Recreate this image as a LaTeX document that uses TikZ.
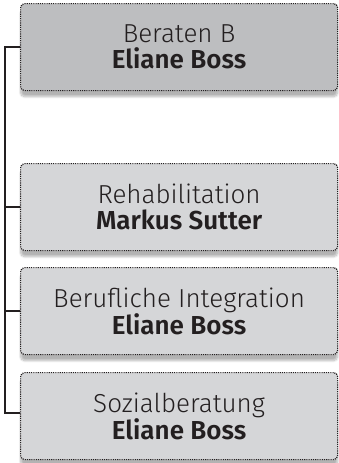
\documentclass[tikz,border=0pt]{standalone}
\usepackage{fontspec}
\setmainfont{Fira Sans}[UprightFont=* Light, BoldFont=* SemiBold]
\usetikzlibrary{shadows.blur}
\definecolor{boxtop}{HTML}{BDBEC0}
\definecolor{boxsub}{HTML}{D5D6D8}
\definecolor{ink}{HTML}{231F20}
\begin{document}
\begin{tikzpicture}[x=1pt,y=1pt,
  unit/.style={draw=ink, dash pattern=on 1.1pt off 1.1pt, line width=1.2pt, rounded corners=4pt,
    minimum width=317pt, minimum height=87pt, anchor=north west,
    align=center, text=ink, font=\fontsize{26}{26}\selectfont, inner sep=0pt,
    blur shadow={shadow xshift=0pt, shadow yshift=-6pt, shadow blur steps=8, shadow opacity=30}},
  link/.style={draw=ink, line width=1.8pt}]
\useasboundingbox (0,0) rectangle (339,-463);
\node[unit, fill=boxtop] (b0) at (20,-3) {Beraten B\\\textbf{Eliane Boss}};
\node[unit, fill=boxsub] (b1) at (20,-163) {Rehabilitation\\\textbf{Markus Sutter}};
\node[unit, fill=boxsub] (b2) at (20,-267) {Berufliche Integration\\\textbf{Eliane Boss}};
\node[unit, fill=boxsub] (b3) at (20,-372) {Sozialberatung\\\textbf{Eliane Boss}};
\coordinate (t0) at (5,-47);
\coordinate (t3) at (5,-413);
\draw[link] (b0.west |- t0) -- (t0) -- (t3) -- (b3.west |- t3);
\draw[link] (b1.west) -- (b1.west -| t0);
\draw[link] (b2.west) -- (b2.west -| t0);
\end{tikzpicture}
\end{document}
